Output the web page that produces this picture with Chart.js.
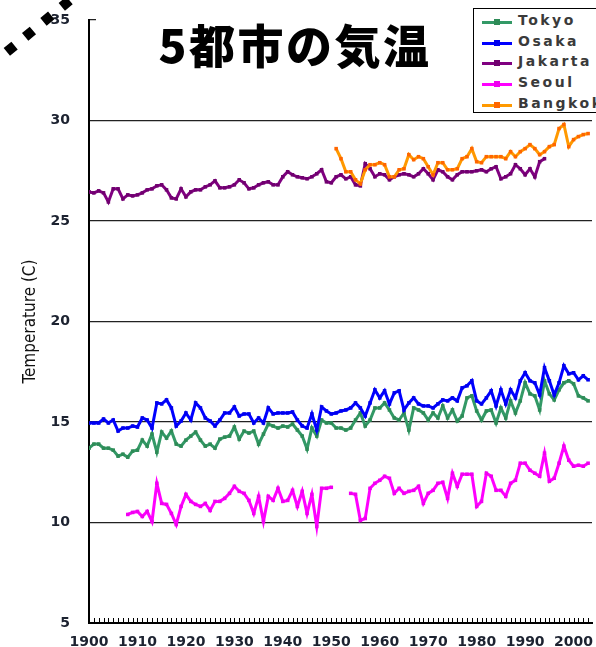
<!DOCTYPE html>
<html>
<head>
<meta charset="utf-8">
<script src="https://cdn.jsdelivr.net/npm/chart.js@4.4.0/dist/chart.umd.min.js"></script>
<style>
html, body { margin: 0; padding: 0; background: #fff; }
#wrap { position: relative; width: 596px; height: 647px; overflow: hidden; }
#chart { position: absolute; left: 0; top: 0; }
#title {
    position: absolute; left: 96px; top: 10px; width: 378px; height: 60px;
    background: #fff; color: #000; text-align: center; line-height: 62px;
    font: 900 46px "Noto Sans CJK JP", sans-serif; letter-spacing: 2.5px; text-indent: 20px;
}
#legend {
    position: absolute; left: 473px; top: 8px; width: 140px; height: 103px;
    border: 1.5px solid #000; background: #fff;
}
.row { position: absolute; left: 0; height: 20px; width: 140px; }
.line { position: absolute; left: 8px; top: 9px; width: 30px; height: 3px; }
.mark { position: absolute; left: 20px; top: 7px; width: 6px; height: 6px; }
.name {
    position: absolute; left: 44px; top: 0; line-height: 20px;
    font: bold 14px "DejaVu Sans", sans-serif; color: #3a3a3a; letter-spacing: 2.5px;
}
#dots { position: absolute; left: 0; top: 0; }
</style>
</head>
<body>
<div id="wrap">
    <canvas id="chart" width="596" height="647"></canvas>
    <svg id="dots" width="90" height="80">
        <line x1="-11.5" y1="66.9" x2="78" y2="-6.5" stroke="#000" stroke-width="10" stroke-dasharray="10 13.7"></line>
    </svg>
    <div id="title">5都市の気温</div>
    <div id="legend"></div>
</div>
<script>
// years on the x axis
const years = [
    1900, 1901, 1902, 1903, 1904, 1905, 1906, 1907, 1908, 1909,
    1910, 1911, 1912, 1913, 1914, 1915, 1916, 1917, 1918, 1919,
    1920, 1921, 1922, 1923, 1924, 1925, 1926, 1927, 1928, 1929,
    1930, 1931, 1932, 1933, 1934, 1935, 1936, 1937, 1938, 1939,
    1940, 1941, 1942, 1943, 1944, 1945, 1946, 1947, 1948, 1949,
    1950, 1951, 1952, 1953, 1954, 1955, 1956, 1957, 1958, 1959,
    1960, 1961, 1962, 1963, 1964, 1965, 1966, 1967, 1968, 1969,
    1970, 1971, 1972, 1973, 1974, 1975, 1976, 1977, 1978, 1979,
    1980, 1981, 1982, 1983, 1984, 1985, 1986, 1987, 1988, 1989,
    1990, 1991, 1992, 1993, 1994, 1995, 1996, 1997, 1998, 1999,
    2000, 2001, 2002, 2003
];

const cities = ["Tokyo", "Osaka", "Jakarta", "Seoul", "Bangkok"];

const tokyo = [
    13.7, 13.9, 13.9, 13.7, 13.7, 13.6, 13.3, 13.4, 13.25, 13.55,
    13.6, 14.1, 13.8, 14.4, 13.5, 14.5, 14.2, 14.55, 13.9, 13.8,
    14.1, 14.3, 14.5, 14.1, 13.8, 13.9, 13.7, 14.15, 14.25, 14.3,
    14.75, 14.15, 14.55, 14.45, 14.55, 13.9, 14.4, 14.9, 14.8, 14.7,
    14.8, 14.75, 14.9, 14.6, 14.3, 13.65, 14.7, 14.3, 15.1, 14.95,
    14.95, 14.7, 14.7, 14.6, 14.7, 15.1, 15.45, 14.8, 15.1, 15.7,
    15.7, 15.95, 15.6, 15.2, 15.1, 15.45, 14.6, 15.7, 15.6, 15.45,
    15.1, 15.45, 15.2, 15.8, 15.2, 15.6, 15.05, 15.3, 16.2, 16.3,
    15.55, 15.1, 15.55, 15.6, 14.95, 15.7, 15.2, 16.05, 15.45, 16.05,
    16.95, 16.4, 16.3, 15.6, 17.05, 16.4, 16.1, 16.6, 16.95, 17.05,
    16.9, 16.3, 16.2, 16.05
];

const osaka = [
    14.95, 14.95, 14.95, 15.15, 14.95, 15.1, 14.55, 14.7, 14.7, 14.8,
    14.75, 15.2, 15.1, 14.7, 15.95, 15.9, 16.1, 15.7, 14.8, 15.05,
    15.45, 15.1, 15.95, 15.7, 15.2, 15.05, 14.8, 15.1, 15.45, 15.45,
    15.75, 15.3, 15.4, 15.4, 14.95, 15.2, 14.95, 15.7, 15.4, 15.45,
    15.45, 15.45, 15.5, 15.1, 14.8, 14.7, 15.4, 14.6, 15.75, 15.55,
    15.4, 15.45, 15.55, 15.6, 15.7, 15.95, 15.7, 15.3, 15.95, 16.6,
    16.2, 16.55, 15.9, 16.45, 16.55, 15.6, 15.95, 16.2, 15.9, 15.8,
    15.8, 15.7, 15.9, 16.1, 16.05, 16.2, 16.05, 16.7, 16.8, 17.05,
    16.05, 15.9, 16.2, 16.55, 15.8, 16.6, 15.9, 16.6, 16.2, 17.05,
    17.45, 17.05, 16.95, 16.35, 17.7, 17.05, 16.35, 16.95, 17.8, 17.4,
    17.45, 17.1, 17.3, 17.1
];

const jakarta = [
    26.45, 26.4, 26.5, 26.4, 25.95, 26.6, 26.6, 26.1, 26.3, 26.25,
    26.3, 26.4, 26.55, 26.6, 26.75, 26.8, 26.55, 26.15, 26.1, 26.6,
    26.2, 26.45, 26.55, 26.55, 26.7, 26.8, 27.0, 26.65, 26.65, 26.7,
    26.8, 27.05, 26.9, 26.6, 26.65, 26.8, 26.9, 26.95, 26.8, 26.8,
    27.2, 27.45, 27.3, 27.2, 27.15, 27.1, 27.2, 27.35, 27.55, 26.95,
    26.9, 27.2, 27.3, 27.1, 27.2, 26.8, 26.75, 27.85, 27.6, 27.2,
    27.35, 27.3, 27.05, 27.2, 27.3, 27.35, 27.3, 27.2, 27.35, 27.6,
    27.35, 27.05, 27.55, 27.45, 27.2, 27.05, 27.3, 27.45, 27.45, 27.45,
    27.5, 27.55, 27.45, 27.6, 27.7, 27.1, 27.2, 27.35, 27.8, 27.6,
    27.3, 27.6, 27.2, 27.95, 28.1, null, null, null, null, null,
    null, null, null, null
];

const seoul = [
    null, null, null, null, null, null, null, null, 10.4, 10.5,
    10.55, 10.3, 10.55, 10.05, 11.95, 10.95, 10.9, 10.45, 9.9, 10.8,
    11.4, 11.05, 10.9, 10.8, 10.95, 10.6, 11.05, 11.05, 11.2, 11.45,
    11.8, 11.55, 11.45, 11.1, 10.45, 11.3, 10.05, 11.3, 11.1, 11.7,
    11.05, 11.1, 11.6, 10.8, 11.55, 10.45, 11.4, 9.8, 11.7, 11.7,
    11.75, null, null, null, 11.45, 11.4, 10.1, 10.2, 11.7, 11.95,
    12.1, 12.3, 12.2, 11.45, 11.7, 11.45, 11.55, 11.6, 11.8, 10.95,
    11.45, 11.6, 11.95, 12.0, 11.2, 12.45, 11.8, 12.4, 12.4, 12.4,
    10.8, 11.05, 12.45, 12.3, 11.6, 11.6, 11.3, 11.95, 12.1, 12.95,
    12.95, 12.6, 12.45, 12.3, 13.45, 12.05, 12.2, 12.95, 13.8, 13.1,
    12.8, 12.85, 12.8, 12.95
];

const bangkok = [
    null, null, null, null, null, null, null, null, null, null,
    null, null, null, null, null, null, null, null, null, null,
    null, null, null, null, null, null, null, null, null, null,
    null, null, null, null, null, null, null, null, null, null,
    null, null, null, null, null, null, null, null, null, null,
    null, 28.6, 28.1, 27.45, 27.45, 27.05, 26.85, 27.55, 27.8, 27.8,
    27.9, 27.8, 27.2, 27.2, 27.55, 27.6, 28.3, 28.05, 28.2, 28.1,
    27.7, 27.3, 27.9, 27.9, 27.55, 27.55, 27.6, 28.1, 28.2, 28.6,
    27.95, 27.9, 28.2, 28.2, 28.2, 28.2, 28.1, 28.45, 28.2, 28.45,
    28.6, 28.8, 28.6, 28.3, 28.45, 28.7, 28.8, 29.6, 29.8, 28.7,
    29.05, 29.2, 29.3, 29.35
];

const yTicks = [5, 10, 15, 20, 25, 30, 35];

const series = [tokyo, osaka, jakarta, seoul, bangkok];
const lineColors = ["#339966", "#0000FF", "#800080", "#FF00FF", "#FF9900"];
const markColors = ["#2E8B57", "#0000EE", "#70006F", "#F000F0", "#FF6600"];

let datasets = [];
for(let i = 0; i < cities.length; i++){
    datasets.push({
        label: cities[i],
        data: years.map((yr, j) => ({ x: yr, y: series[i][j] })),
        borderColor: lineColors[i],
        backgroundColor: markColors[i],
        pointBackgroundColor: markColors[i],
        pointBorderColor: markColors[i],
        pointStyle: "rect",
        pointRadius: 2.5,
        pointBorderWidth: 0,
        borderWidth: 3,
        spanGaps: false,
        order: cities.length - i,
    });
}

// legend drawn from the same arrays
let legend = document.getElementById("legend");
for(let i = 0; i < cities.length; i++){
    let row = document.createElement("div");
    row.className = "row";
    row.style.top = (3 + i * 20.7) + "px";
    row.innerHTML = `<div class="line" style="background:${lineColors[i]}"></div>` +
        `<div class="mark" style="background:${markColors[i]}"></div>` +
        `<div class="name">${cities[i]}</div>`;
    legend.appendChild(row);
}

// little year ticks along the bottom axis, pointing up
const yearTicks = {
    id: "yearTicks",
    afterDatasetsDraw(chart){
        const { ctx, chartArea } = chart;
        const x = chart.scales.x;
        ctx.save();
        ctx.strokeStyle = "#000";
        ctx.lineWidth = 1;
        x.ticks.forEach((t) => {
            let px = Math.round(x.getPixelForValue(t.value)) + 0.5;
            ctx.beginPath();
            ctx.moveTo(px, chartArea.bottom);
            ctx.lineTo(px, chartArea.bottom - 5);
            ctx.stroke();
        });
        ctx.restore();
    }
};

const tickFont = { family: "DejaVu Sans", size: 14, weight: "bold" };

new Chart("chart", {
    type: "line",
    data: { datasets: datasets },
    options: {
        responsive: false,
        animation: false,
        layout: { padding: { top: 20, right: 0, left: 0, bottom: 0 } },
        plugins: {
            legend: { display: false },
            title: { display: false },
            tooltip: { enabled: false },
        },
        scales: {
            x: {
                type: "linear",
                min: 1900,
                max: 2003.8,
                afterFit: (s) => { s.height = 24; },
                ticks: {
                    stepSize: 1,
                    autoSkip: false,
                    maxRotation: 0,
                    includeBounds: false,
                    padding: 3,
                    color: "#1c2230",
                    font: tickFont,
                    callback: (v) => (v % 10 === 0 ? String(v) : ""),
                },
                grid: { display: false },
                border: { display: true, color: "#000", width: 2 },
            },
            y: {
                min: 5,
                max: 35,
                afterFit: (s) => { s.width = 89; },
                afterBuildTicks: (s) => { s.ticks = yTicks.map((v) => ({ value: v })); },
                ticks: {
                    padding: 0,
                    color: "#1c2230",
                    font: tickFont,
                },
                grid: { color: "#222", lineWidth: 1.3, drawTicks: true, tickLength: 19, tickColor: "rgba(0,0,0,0)" },
                border: { display: true, color: "#000", width: 2 },
                title: {
                    display: true,
                    text: "Temperature (C)",
                    color: "#111",
                    font: { family: "'DejaVu Sans Condensed', 'Liberation Sans', sans-serif", size: 17 },
                    padding: { top: 20, bottom: 0 },
                },
            },
        },
    },
    plugins: [yearTicks],
});
</script>
</body>
</html>
